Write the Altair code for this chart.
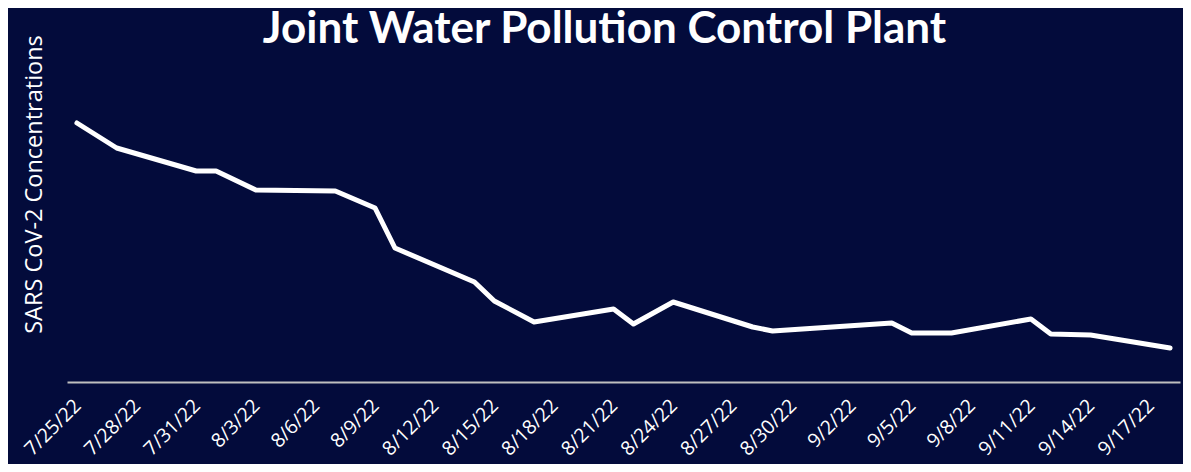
import altair as alt
import pandas as pd

dates = ["2022-07-25", "2022-07-27", "2022-07-31", "2022-08-01", "2022-08-03",
         "2022-08-07", "2022-08-09", "2022-08-10", "2022-08-14", "2022-08-15",
         "2022-08-17", "2022-08-21", "2022-08-22", "2022-08-24", "2022-08-28",
         "2022-08-29", "2022-09-04", "2022-09-05", "2022-09-07", "2022-09-11",
         "2022-09-12", "2022-09-14", "2022-09-18"]
concentrations = [259, 234, 211, 211, 192, 191, 174, 134, 100, 81,
                  60, 73, 58, 80, 55, 51, 59, 49, 49, 63, 48, 47, 34]
tick_dates = [(7, 25), (7, 28), (7, 31), (8, 3), (8, 6), (8, 9), (8, 12), (8, 15),
              (8, 18), (8, 21), (8, 24), (8, 27), (8, 30), (9, 2), (9, 5), (9, 8),
              (9, 11), (9, 14), (9, 17)]

df = pd.DataFrame({"date": dates, "value": concentrations})

BG = "#030b3b"

tick_values = [alt.DateTime(year=2022, month=m, date=d, utc=True) for m, d in tick_dates]

chart = alt.Chart(df).mark_line(
    color="white", strokeWidth=5, strokeCap="round", strokeJoin="round"
).encode(
    x=alt.X("date:T",
            scale=alt.Scale(type="utc",
                            domain=[alt.DateTime(year=2022, month=7, date=24, hours=12, utc=True),
                                    alt.DateTime(year=2022, month=9, date=18, hours=12, utc=True)]),
            axis=alt.Axis(values=tick_values,
                          labelExpr="utcFormat(datum.value, '%-m/%-d/%y')",
                          labelAngle=-45, labelAlign="right", labelBaseline="top",
                          labelPadding=14, labelOffset=-6, labelFontSize=19.5,
                          labelFont="Open Sans",
                          labelColor="white", labelOverlap=False, labelBound=False,
                          labelFlush=False,
                          ticks=False, grid=False, domainColor="#bfbfbf", domainWidth=2,
                          title=None)),
    y=alt.Y("value:Q", scale=alt.Scale(domain=[0, 322], nice=False, zero=True),
            axis=alt.Axis(labels=False, ticks=False, grid=False, domain=False,
                          title="SARS CoV-2 Concentrations", titleFont="Open Sans",
                          titleFontSize=23.5, titleFontWeight="normal", titleColor="white",
                          titleX=-33, titleY=124, titleAngle=-90, titleAlign="center",
                          titleBaseline="middle"))
).properties(
    width=1113, height=322,
    background=BG,
    padding={"left": 59, "top": 52, "right": 3, "bottom": 82},
    autosize=alt.AutoSizeParams(type="none"),
    title=alt.Title("Joint Water Pollution Control Plant", font="Lato", fontSize=44,
                    fontWeight="bold", color="white", anchor="middle", dx=-19,
                    offset=10, dy=27)
).configure_view(stroke=None)

chart.save("out.html", embed_options={"renderer": "svg", "actions": False})
